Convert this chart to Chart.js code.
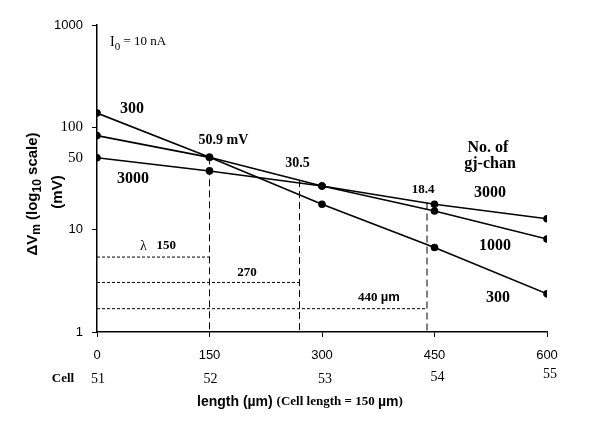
<!DOCTYPE html>
<html>
<head>
<meta charset="utf-8">
<script src="https://cdn.jsdelivr.net/npm/chart.js@4/dist/chart.umd.min.js"></script>
<style>
  html, body { margin: 0; padding: 0; background: #fff; }
  #wrap { width: 600px; height: 427px; position: relative; }
</style>
</head>
<body>
<div id="wrap"><canvas id="decay-chart"></canvas></div>
<script>
// x positions along the strand (um) and the cell numbers under them
const lengths = [0, 150, 300, 450, 600];
const cells = ['51', '52', '53', '54', '55'];
const yTicks = [1, 10, 50, 100, 1000];

// dVm (mV) per number of gap-junction channels
const chan300 = [138, 50.9, 17.7, 6.7, 2.36];
const chan1000 = [83, 50.9, 26.7, 15.2, 8.1];
const chan3000 = [50.4, 37.5, 26.7, 17.7, 12.8];

// length constants: where each curve drops to 1/e of its start
const lambdaX = [150, 270, 440];
const lambdaTop = [50.9, 30.5, 18.4];
const lambdaLevel = [5.4, 3.05, 1.69];

const serif = '"Liberation Serif", "Times New Roman", serif';
const sans = '"Liberation Sans", Arial, sans-serif';

function series(vals, label) {
    return {
        label: label,
        data: lengths.map(function(x, i) { return {x: x, y: vals[i]}; }),
        borderColor: '#000',
        backgroundColor: '#000',
        borderWidth: 1.6,
        pointRadius: 3,
        pointHoverRadius: 3,
        tension: 0
    };
}

function guide(points, dash) {
    return {
        data: points,
        borderColor: '#000',
        borderWidth: 1,
        borderDash: dash,
        pointRadius: 0,
        pointHoverRadius: 0
    };
}

var datasets = [series(chan300, '300'), series(chan1000, '1000'), series(chan3000, '3000')];
for (let i = 0; i < lambdaX.length; i++) {
    datasets.push(guide([{x: lambdaX[i], y: lambdaTop[i]}, {x: lambdaX[i], y: 1}], [7, 4]));
    datasets.push(guide([{x: 0, y: lambdaLevel[i]}, {x: lambdaX[i], y: lambdaLevel[i]}], [3, 2]));
}

// width of a run of [text, font, dy] pieces
function runWidth(ctx, runs) {
    let w = 0;
    runs.forEach(function(r) { ctx.font = r[1]; w += ctx.measureText(r[0]).width; });
    return w;
}
function paintRuns(ctx, runs, x, y, align) {
    ctx.textBaseline = 'middle';
    ctx.textAlign = 'left';
    let w = runWidth(ctx, runs);
    let cx = align === 'center' ? x - w / 2 : x;
    runs.forEach(function(r) {
        ctx.font = r[1];
        ctx.fillText(r[0], cx, y + (r[2] || 0));
        cx += ctx.measureText(r[0]).width;
    });
}

const textPlugin = {
    id: 'texts',
    afterDraw(chart) {
        const ctx = chart.ctx;
        const xs = chart.scales.x;
        const ys = chart.scales.y;
        const px = function(v) { return xs.getPixelForValue(v); };
        const py = function(v) { return ys.getPixelForValue(v); };
        ctx.save();
        ctx.fillStyle = '#000';

        const b16 = 'bold 16px ' + serif;
        const b14 = 'bold 14px ' + serif;
        const b13 = 'bold 13px ' + serif;

        // I0 = 10 nA
        paintRuns(ctx, [['I', '14px ' + serif, 0], ['0', '11px ' + serif, 5], [' = 10 nA', '13px ' + serif, 0]], 110, 42, 'left');

        // curve labels, left side
        paintRuns(ctx, [['300', b16]], px(0) + 35, py(chan300[0]) - 4, 'center');
        paintRuns(ctx, [['3000', b16]], px(0) + 36, py(chan3000[0]) + 21, 'center');

        // values at the lambda points
        paintRuns(ctx, [['50.9 mV', b14]], px(lambdaX[0]) + 14, py(lambdaTop[0]) - 17, 'center');
        paintRuns(ctx, [['30.5', b14]], px(lambdaX[1]) - 2, py(lambdaTop[1]) - 17, 'center');
        paintRuns(ctx, [['18.4', b13]], px(lambdaX[2]) - 4, py(lambdaTop[2]) - 13, 'center');

        // legend block, right side
        paintRuns(ctx, [['No. of', b16]], 488, 148, 'center');
        paintRuns(ctx, [['gj-chan', b16]], 490, 164, 'center');
        paintRuns(ctx, [['3000', b16]], 490, 193, 'center');
        paintRuns(ctx, [['1000', b16]], 495, 246, 'center');
        paintRuns(ctx, [['300', b16]], 498, 298, 'center');

        // lambda labels above the dotted lines
        paintRuns(ctx, [['\u03bb', '14px ' + serif], ['   150', b13]], 140, py(lambdaLevel[0]) - 11, 'left');
        paintRuns(ctx, [['270', b13]], 247, py(lambdaLevel[1]) - 10, 'center');
        paintRuns(ctx, [['440 ', b13], ['\u00b5m', 'bold 13px ' + sans]], 379, py(lambdaLevel[2]) - 11, 'center');

        // cell row
        paintRuns(ctx, [['Cell', b13]], 63, 379, 'center');
        cells.forEach(function(c, i) {
            paintRuns(ctx, [[c, '14px ' + serif]], px(lengths[i]) + (i > 1 ? 3 : 1), 379 - (i === 3 ? 2 : 0) - (i === 4 ? 5 : 0), 'center');
        });

        // x axis title
        paintRuns(ctx, [['length (\u00b5m) ', 'bold 14px ' + sans], ['(Cell length = 150 ', b13], ['\u00b5m', 'bold 14px ' + sans], [')', b13]], 197, 402, 'left');

        // y axis title, rotated
        ctx.translate(33, 194);
        ctx.rotate(-Math.PI / 2);
        const b = 'bold 15px ' + sans;
        const s = 'bold 12px ' + sans;
        paintRuns(ctx, [['\u0394V', b, 0], ['m', s, 4], [' (log', b, 0], ['10', s, 5], [' scale)', b, 0]], 0, 0, 'center');
        paintRuns(ctx, [['(mV)', b, 0]], 2, 25, 'center');
        ctx.restore();
    }
};

const chrt = document.getElementById('decay-chart').getContext('2d');
const chartId = new Chart(chrt, {
    type: 'line',
    data: { datasets: datasets },
    options: {
        responsive: true,
        maintainAspectRatio: false,
        animation: false,
        layout: { padding: { left: 0, right: 53, top: 25, bottom: 0 } },
        plugins: { legend: { display: false }, tooltip: { enabled: false } },
        scales: {
            x: {
                type: 'linear',
                min: 0,
                max: 600,
                afterBuildTicks: function(scale) {
                    scale.ticks = lengths.map(function(v) { return {value: v}; });
                },
                afterFit: function(scale) { scale.height = 95; },
                border: { color: '#000', width: 1.5 },
                grid: { display: true, drawOnChartArea: false, drawTicks: true, tickLength: 5, color: '#000', tickColor: '#000' },
                ticks: { color: '#000', font: { family: sans, size: 13 }, padding: 11, maxRotation: 0 }
            },
            y: {
                type: 'logarithmic',
                min: 1,
                max: 1000,
                afterBuildTicks: function(scale) {
                    scale.ticks = yTicks.map(function(v) { return {value: v}; });
                },
                afterFit: function(scale) { scale.width = 97; },
                border: { color: '#000', width: 1.5 },
                grid: {
                    display: true, drawOnChartArea: false, drawTicks: true, tickLength: 5, color: '#000',
                    tickColor: function(c) { return c.tick && c.tick.value === 50 ? 'rgba(0,0,0,0)' : '#000'; }
                },
                ticks: {
                    color: '#000',
                    padding: 9,
                    callback: function(v) { return String(v); },
                    font: function(c) {
                        const v = c.tick ? c.tick.value : 0;
                        if (v === 50 || v === 100) return { family: serif, size: 15 };
                        return { family: sans, size: 13 };
                    }
                }
            }
        }
    },
    plugins: [textPlugin]
});
</script>
</body>
</html>
